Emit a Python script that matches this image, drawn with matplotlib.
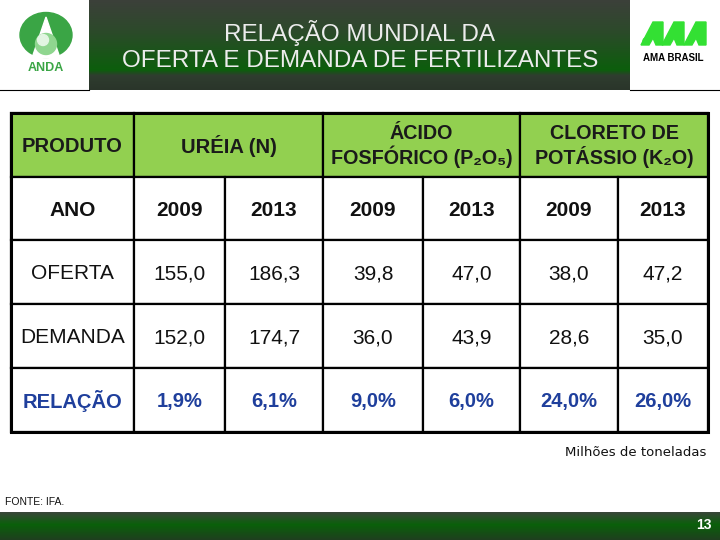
import numpy as np
import matplotlib.pyplot as plt
from matplotlib.patches import Rectangle, Ellipse, Circle, Polygon
from matplotlib.colors import LinearSegmentedColormap

plt.rcParams['font.family'] = ['Liberation Sans', 'DejaVu Sans']

# dados da tabela
titulo = "RELAÇÃO MUNDIAL DA\nOFERTA E DEMANDA DE FERTILIZANTES"
produtos = ["URÉIA (N)", "ÁCIDO\nFOSFÓRICO (P₂O₅)", "CLORETO DE\nPOTÁSSIO (K₂O)"]
anos = ["2009", "2013"]
linhas = ["ANO", "OFERTA", "DEMANDA", "RELAÇÃO"]
oferta = [155.0, 186.3, 39.8, 47.0, 38.0, 47.2]
demanda = [152.0, 174.7, 36.0, 43.9, 28.6, 35.0]
relacao = [1.9, 6.1, 9.0, 6.0, 24.0, 26.0]

def virgula(v, casas=1):
    return f"{v:.{casas}f}".replace(".", ",")

# geometria (pixels)
cols = [11, 134, 225, 323, 423, 520, 618, 708]
rows = [113, 177, 240, 304, 368, 432]
verde_cab = "#92d050"
azul = "#1f3f9c"

fig = plt.figure(figsize=(7.2, 5.4), dpi=100)
ax = fig.add_axes([0, 0, 1, 1])
ax.set_xlim(0, 720)
ax.set_ylim(540, 0)
ax.axis("off")

# faixa do título
cmap_top = LinearSegmentedColormap.from_list(
    "top", [(0, "#3c403a"), (0.35, "#2c4a2a"), (0.78, "#0c5e0c"),
            (0.84, "#2f3d2f"), (1, "#2a352a")])
grad = np.linspace(0, 1, 200).reshape(-1, 1)
ax.imshow(grad, cmap=cmap_top, extent=(89, 630, 90, 0), aspect="auto", origin="upper", zorder=1)
ax.plot([0, 89], [90, 90], color="black", lw=0.8)
ax.plot([630, 720], [90, 90], color="black", lw=0.8)
ax.text(360, 46, titulo, color="#ececec", fontsize=17.5, ha="center", va="center",
        linespacing=1.25, zorder=2)

# logo ANDA
ax.add_patch(Ellipse((46, 35), 52, 45, color="#3aa545", zorder=2))
ax.add_patch(Polygon([[46, 17], [32, 58], [60, 58]], color="white", zorder=3))
ax.add_patch(Circle((46, 44), 10.5, color="#8fd68f", zorder=4))
ax.add_patch(Circle((43, 40), 5.5, color="#e2f5e2", zorder=5))
ax.text(46, 68, "ANDA", color="#3aa545", fontsize=9, fontweight="bold",
        ha="center", va="center", zorder=5)

# logo AMA BRASIL
verde_ama = "#33e033"
for x0 in [641, 662, 684]:
    ax.add_patch(Polygon([[x0, 45], [x0 + 12, 22], [x0 + 22, 22], [x0 + 22, 45],
                          [x0 + 15, 45], [x0 + 12, 38], [x0 + 8, 45]],
                         color=verde_ama, zorder=2))
ax.add_patch(Circle((646, 41), 3, color=verde_ama, zorder=2))
ax.text(673, 58, "AMA BRASIL", color="black", fontsize=7, fontweight="bold",
        ha="center", va="center")

# tabela
lw_in = 1.6
ax.add_patch(Rectangle((cols[0], rows[0]), cols[1] - cols[0], rows[1] - rows[0],
                       facecolor=verde_cab, edgecolor="black", lw=lw_in, zorder=2))
for i, nome in enumerate(produtos):
    c0, c1 = cols[1 + 2 * i], cols[3 + 2 * i]
    ax.add_patch(Rectangle((c0, rows[0]), c1 - c0, rows[1] - rows[0],
                           facecolor=verde_cab, edgecolor="black", lw=lw_in, zorder=2))
    ax.text((c0 + c1) / 2, (rows[0] + rows[1]) / 2 + 1, nome,
            fontsize=14.5 if i == 0 else 14.2, fontweight="bold", color="#1a1a1a",
            ha="center", va="center", linespacing=1.12, zorder=3)
ax.text((cols[0] + cols[1]) / 2, (rows[0] + rows[1]) / 2 + 1, "PRODUTO", fontsize=14.5,
        fontweight="bold", color="#1a1a1a", ha="center", va="center", zorder=3)

valores = [anos * 3,
           [virgula(v) for v in oferta],
           [virgula(v) for v in demanda],
           [virgula(v) + "%" for v in relacao]]
for r, rotulo in enumerate(linhas):
    y0, y1 = rows[r + 1], rows[r + 2]
    if r == 0:
        estilo = dict(fontsize=15, fontweight="bold", color="#111111")
    elif r == 3:
        estilo = dict(fontsize=14.5, fontweight="bold", color=azul)
    else:
        estilo = dict(fontsize=15, fontweight="normal", color="#111111")
    for c in range(len(cols) - 1):
        ax.add_patch(Rectangle((cols[c], y0), cols[c + 1] - cols[c], y1 - y0,
                               facecolor="white", edgecolor="black", lw=lw_in, zorder=2))
        texto = rotulo if c == 0 else valores[r][c - 1]
        ax.text((cols[c] + cols[c + 1]) / 2, (y0 + y1) / 2 + 1.5, texto,
                ha="center", va="center", zorder=3, **estilo)

ax.add_patch(Rectangle((cols[0], rows[0]), cols[-1] - cols[0], rows[-1] - rows[0],
                       fill=False, edgecolor="black", lw=2.2, zorder=4))

ax.text(706, 452, "Milhões de toneladas", fontsize=9.5, family="DejaVu Sans",
        color="#111111", ha="right", va="center")
ax.text(5, 502, "FONTE: IFA.", fontsize=7.5, color="#111111", ha="left", va="center")

# rodapé
cmap_bot = LinearSegmentedColormap.from_list(
    "bot", [(0, "#3a463a"), (0.45, "#0a600a"), (1, "#1f3f1f")])
ax.imshow(grad, cmap=cmap_bot, extent=(0, 720, 540, 512), aspect="auto", origin="upper", zorder=1)
ax.text(712, 525, "13", color="white", fontsize=10, fontweight="bold",
        ha="right", va="center", zorder=2)

ax.set_xlim(0, 720)
ax.set_ylim(540, 0)
fig.savefig("out.png", dpi=100)
